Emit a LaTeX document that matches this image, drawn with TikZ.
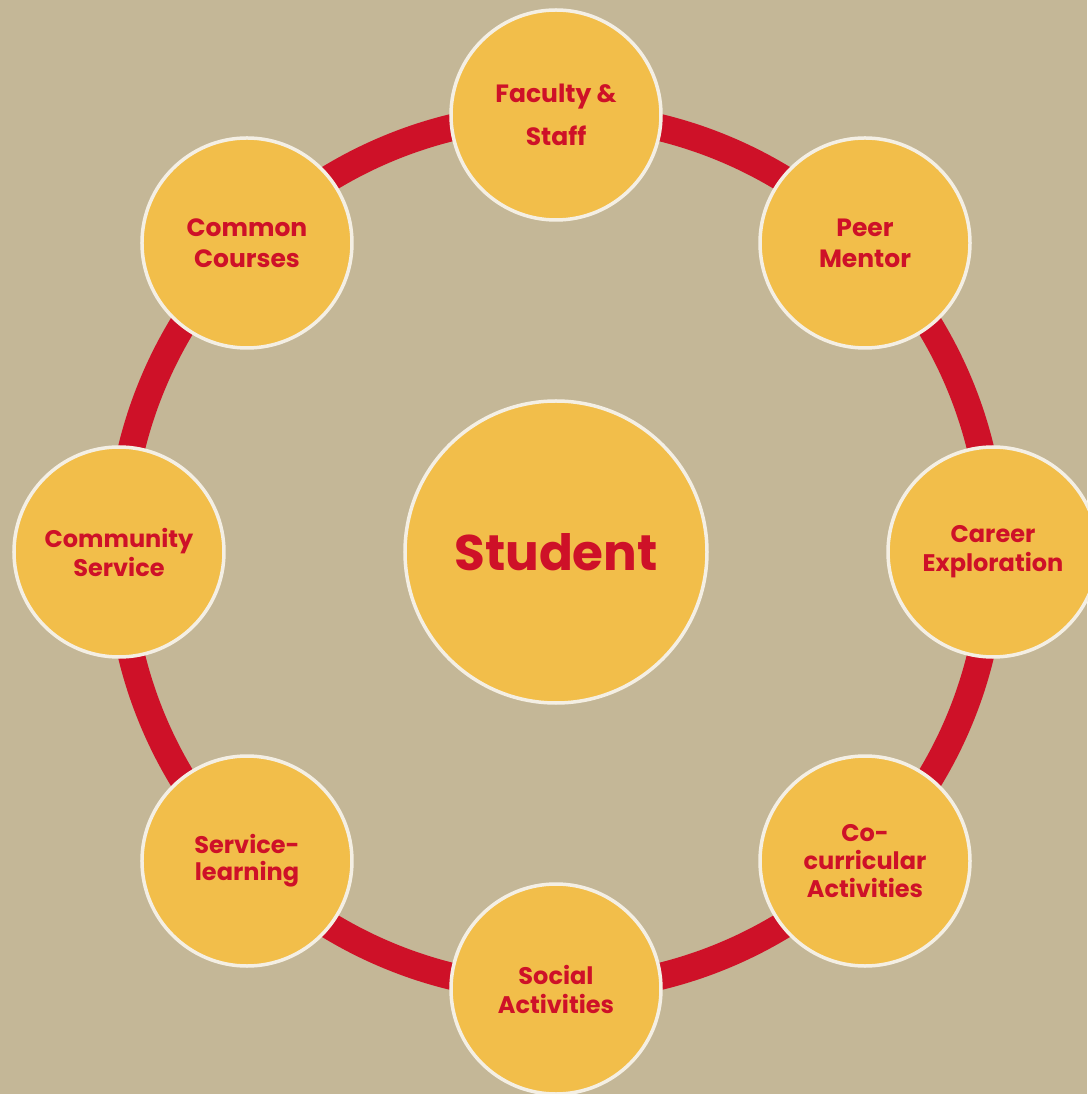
\documentclass[tikz,border=0pt]{standalone}
\usepackage{fontspec}
\setmainfont{Poppins}
\usetikzlibrary{backgrounds}

\definecolor{sand}{HTML}{C4B797}
\definecolor{gold}{HTML}{F2BE4A}
\definecolor{cream}{HTML}{F4EFE4}
\definecolor{crimson}{HTML}{CE1128}

\tikzset{
  hub/.style={circle, fill=gold, draw=cream, line width=3.5pt, minimum size=302pt,
    inner sep=0pt, text=crimson, font=\bfseries\fontsize{50}{56}\selectfont},
  spoke/.style={circle, fill=gold, draw=cream, line width=3.5pt, minimum size=210pt,
    inner sep=0pt, align=center, text=crimson, font=\bfseries\fontsize{24}{29}\selectfont},
  ring/.style={draw=crimson, line width=27pt}
}

\begin{document}
\begin{tikzpicture}[x=1pt, y=1pt]
  \useasboundingbox (-556,-542) rectangle (531,552);

  % Centre
  \node (student) [hub] at (0,0) {Student};

  % Ring of circles
  \node (faculty) [spoke, font=\bfseries\fontsize{25}{43}\selectfont] at (90:437) {Faculty \&\\Staff};
  \node (peer) [spoke, font=\bfseries\fontsize{25}{31}\selectfont] at (45:437) {Peer\\Mentor};
  \node (career) [spoke] at (0:437) {Career\\Exploration};
  \node (cocurr) [spoke, font=\bfseries\fontsize{24}{28}\selectfont] at (-45:437) {Co-\\curricular\\Activities};
  \node (social) [spoke] at (-90:437) {Social\\Activities};
  \node (servlearn) [spoke, font=\bfseries\fontsize{24}{27}\selectfont] at (-135:437) {Service-\\learning};
  \node (community) [spoke] at (180:437) {Community\\Service};
  \node (common) [spoke, font=\bfseries\fontsize{25}{31}\selectfont] at (135:437) {Common\\Courses};

  \begin{scope}[on background layer]
    \fill[sand] (-556,-542) rectangle (531,552);
    % Ring links
    \draw[ring] (faculty.center) arc[start angle=90, end angle=45, radius=437];
    \draw[ring] (peer.center) arc[start angle=45, end angle=0, radius=437];
    \draw[ring] (career.center) arc[start angle=0, end angle=-45, radius=437];
    \draw[ring] (cocurr.center) arc[start angle=-45, end angle=-90, radius=437];
    \draw[ring] (social.center) arc[start angle=-90, end angle=-135, radius=437];
    \draw[ring] (servlearn.center) arc[start angle=-135, end angle=-180, radius=437];
    \draw[ring] (community.center) arc[start angle=180, end angle=135, radius=437];
    \draw[ring] (common.center) arc[start angle=135, end angle=90, radius=437];
  \end{scope}
\end{tikzpicture}
\end{document}
